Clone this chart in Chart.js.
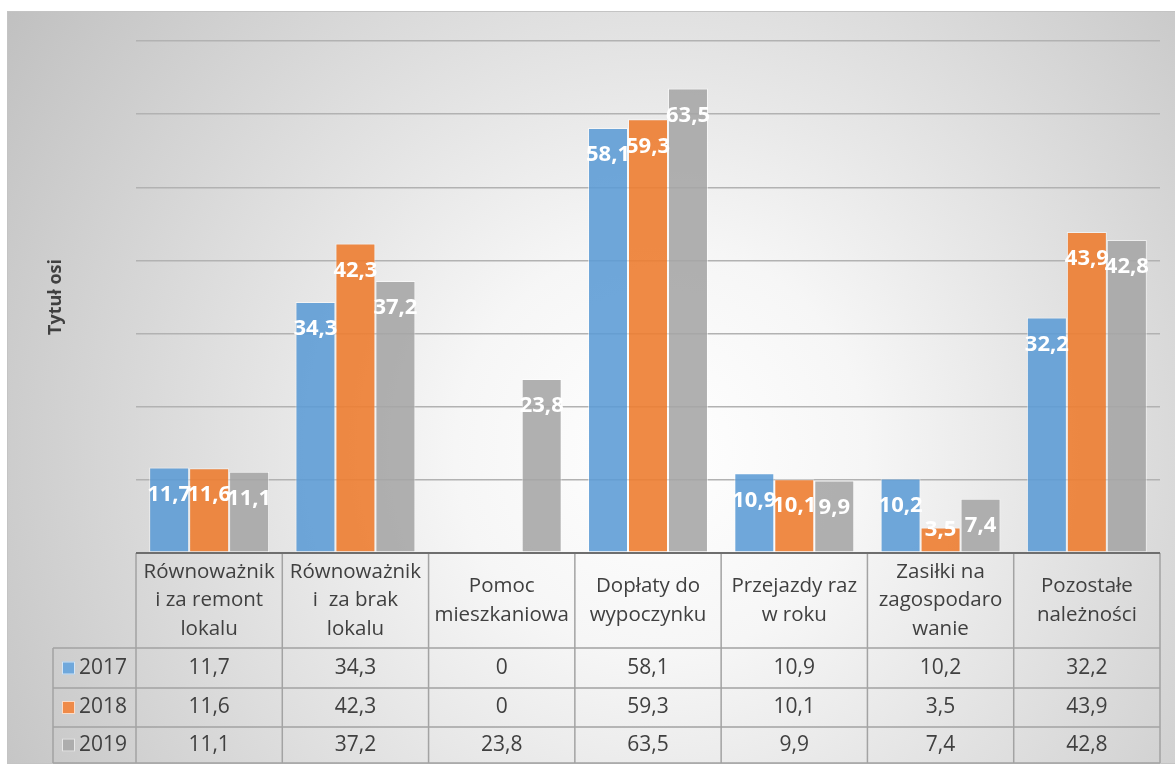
<!DOCTYPE html>
<html>
<head>
<meta charset="utf-8">
<title>Wykres</title>
<script src="https://cdn.jsdelivr.net/npm/chart.js@4/dist/chart.umd.min.js"></script>
<style>
  html, body { margin: 0; padding: 0; background: #fff; }
  #chart { display: block; }
</style>
</head>
<body>
<canvas id="chart" width="1175" height="769"></canvas>
<script>
// data
var categories = [
    ['Równoważnik', 'i za remont', 'lokalu'],
    ['Równoważnik', 'i  za brak', 'lokalu'],
    ['Pomoc', 'mieszkaniowa'],
    ['Dopłaty do', 'wypoczynku'],
    ['Przejazdy raz', 'w roku'],
    ['Zasiłki na', 'zagospodaro', 'wanie'],
    ['Pozostałe', 'należności']
];
var years = ['2017', '2018', '2019'];
var values2017 = [11.7, 34.3, 0, 58.1, 10.9, 10.2, 32.2];
var values2018 = [11.6, 42.3, 0, 59.3, 10.1, 3.5, 43.9];
var values2019 = [11.1, 37.2, 23.8, 63.5, 9.9, 7.4, 42.8];
var yMax = 70;
var yStep = 10;
var axisTitle = 'Tytuł osi';

var fillColors = ['rgba(91,155,213,0.88)', 'rgba(237,125,49,0.9)', 'rgba(165,165,165,0.88)'];
var keyColors = ['#6fa8dc', '#ef8a48', '#adadad'];
var FONT = '"Open Sans", "DejaVu Sans", sans-serif';

function fmt(v) {
    return String(v).replace('.', ',');
}

//background box with radial gradient
var backgroundPlugin = {
    id: 'bg',
    beforeDraw: function (chart) {
        var ctx = chart.ctx;
        ctx.save();
        ctx.fillStyle = '#fff';
        ctx.fillRect(0, 0, chart.width, chart.height);
        var g = ctx.createRadialGradient(660, 450, 0, 660, 450, 820);
        g.addColorStop(0, '#ffffff');
        g.addColorStop(0.25, '#f6f6f6');
        g.addColorStop(1, '#bdbdbd');
        ctx.fillStyle = g;
        ctx.fillRect(7, 11, chart.width - 7, 753);
        ctx.strokeStyle = '#c4c4c4';
        ctx.lineWidth = 1;
        ctx.strokeRect(7.5, 11.5, chart.width, 752);
        ctx.restore();
    }
};

//white labels inside the bars
var labelPlugin = {
    id: 'barLabels',
    afterDatasetsDraw: function (chart) {
        var ctx = chart.ctx;
        ctx.save();
        ctx.font = 'bold 22px ' + FONT;
        ctx.fillStyle = '#fff';
        ctx.textAlign = 'center';
        ctx.textBaseline = 'middle';
        chart.data.datasets.forEach(function (ds, di) {
            var meta = chart.getDatasetMeta(di);
            meta.data.forEach(function (bar, i) {
                var v = ds.data[i];
                if (!v) return;
                var y = bar.y + 27;
                if (y + 11 > bar.base) y = bar.y + 2;
                ctx.fillText(fmt(v), bar.x, y);
            });
        });
        ctx.restore();
    }
};

//data table under the plot + axis title
var tablePlugin = {
    id: 'dataTable',
    afterDraw: function (chart) {
        var ctx = chart.ctx;
        var area = chart.chartArea;
        var xs = chart.scales.x;
        var half = (xs.getPixelForValue(1) - xs.getPixelForValue(0)) / 2;
        var top = area.bottom;
        var headBottom = 648;
        var rowLines = [648, 688, 727, 763];
        var legendLeft = 53;
        var right = area.right;

        ctx.save();
        ctx.strokeStyle = '#a3a3a3';
        ctx.lineWidth = 1.5;
        ctx.beginPath();
        for (var i = 0; i <= categories.length; i++) {
            var bx = i < categories.length ? xs.getPixelForValue(i) - half : right;
            ctx.moveTo(bx, top);
            ctx.lineTo(bx, rowLines[3]);
        }
        ctx.moveTo(legendLeft, headBottom);
        ctx.lineTo(legendLeft, rowLines[3]);
        rowLines.forEach(function (ry) {
            ctx.moveTo(legendLeft, ry);
            ctx.lineTo(right, ry);
        });
        ctx.stroke();

        // axis line
        ctx.strokeStyle = '#6e6e6e';
        ctx.lineWidth = 2;
        ctx.beginPath();
        ctx.moveTo(area.left, top);
        ctx.lineTo(right, top);
        ctx.stroke();

        ctx.fillStyle = '#404040';
        ctx.textAlign = 'center';
        ctx.textBaseline = 'middle';
        ctx.font = '20.5px ' + FONT;
        var lh = 28.5;
        categories.forEach(function (lines, i) {
            var cx = xs.getPixelForValue(i);
            var cy = (top + headBottom) / 2 - (lines.length - 1) * lh / 2;
            lines.forEach(function (t, k) {
                ctx.fillText(t, cx, cy + k * lh);
            });
        });

        var series = [values2017, values2018, values2019];
        ctx.font = '21px ' + FONT;
        series.forEach(function (vals, r) {
            var cy = (rowLines[r] + rowLines[r + 1]) / 2;
            vals.forEach(function (v, i) {
                ctx.textAlign = 'center';
                ctx.fillText(fmt(v), xs.getPixelForValue(i), cy);
            });
            ctx.fillStyle = keyColors[r];
            ctx.fillRect(62, cy - 6.5, 13, 13);
            ctx.strokeStyle = 'rgba(255,255,255,0.7)';
            ctx.lineWidth = 1;
            ctx.strokeRect(62.5, cy - 6, 12, 12);
            ctx.fillStyle = '#404040';
            ctx.textAlign = 'left';
            ctx.fillText(years[r], 79, cy);
        });

        // axis title
        ctx.translate(56, 297);
        ctx.rotate(-Math.PI / 2);
        ctx.font = 'bold 18px ' + FONT;
        ctx.textAlign = 'center';
        ctx.fillStyle = '#404040';
        ctx.fillText(axisTitle, 0, 0);
        ctx.restore();
    }
};

var ctx = document.getElementById('chart');
var chart = new Chart(ctx, {
    type: 'bar',
    data: {
        labels: categories.map(function (c) { return c.join(' '); }),
        datasets: [
            { label: years[0], data: values2017, backgroundColor: fillColors[0] },
            { label: years[1], data: values2018, backgroundColor: fillColors[1] },
            { label: years[2], data: values2019, backgroundColor: fillColors[2] }
        ]
    },
    options: {
        responsive: false,
        animation: false,
        devicePixelRatio: 1,
        layout: { padding: { left: 136, right: 15, top: 41, bottom: 216 } },
        datasets: {
            bar: {
                categoryPercentage: 0.82,
                barPercentage: 1,
                borderWidth: 1,
                borderColor: 'rgba(255,255,255,0.55)',
                borderSkipped: false
            }
        },
        plugins: {
            legend: { display: false },
            tooltip: { enabled: false }
        },
        scales: {
            x: { display: false },
            y: {
                min: 0,
                max: yMax,
                ticks: { display: false, stepSize: yStep },
                border: { display: false },
                grid: { color: '#b2b2b2', lineWidth: 1.5, drawTicks: false }
            }
        }
    },
    plugins: [backgroundPlugin, labelPlugin, tablePlugin]
});
</script>
</body>
</html>
